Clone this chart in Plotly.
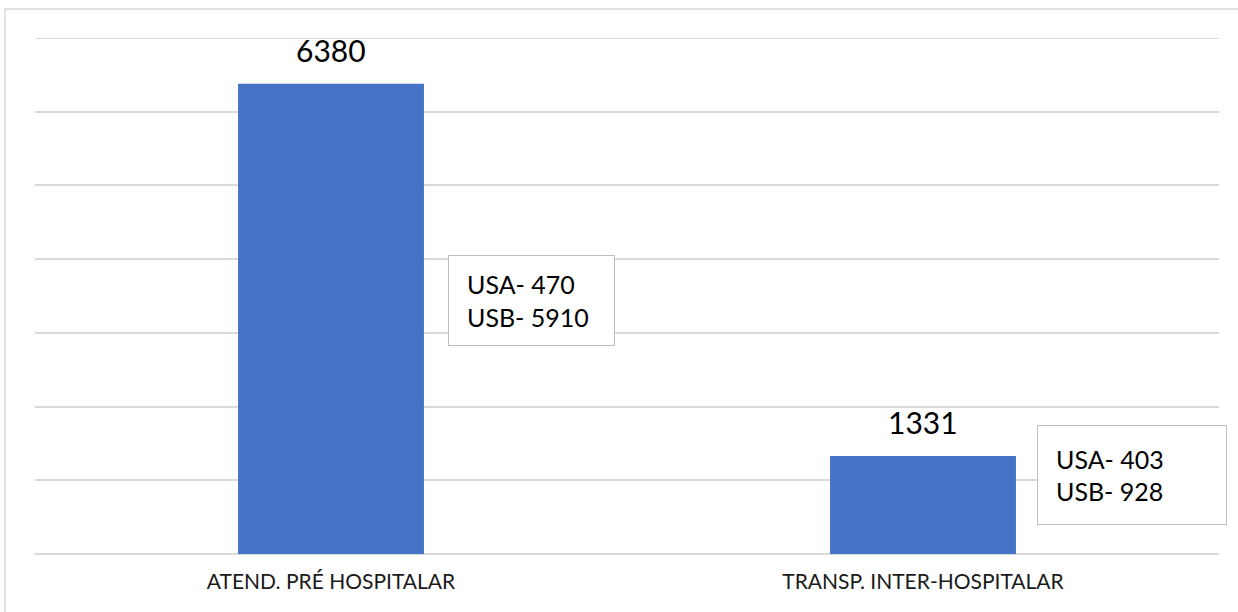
import plotly.graph_objects as go

categories = ["ATEND. PRÉ HOSPITALAR", "TRANSP. INTER-HOSPITALAR"]
totals = [6380, 1331]
usa_values = [470, 403]
usb_values = [5910, 928]
y_ticks = [0, 1000, 2000, 3000, 4000, 5000, 6000, 7000]

BAR_COLOR = "#4472C4"
GRID = "#d9d9d9"
FONT = "Lato, 'Open Sans', sans-serif"

W, H = 1238, 612
ML, MR, MT, MB = 35, 19, 38, 58
PW, PH = W - ML - MR, H - MT - MB

def px_x(px):
    return (px - ML) / PW

def px_y(py):
    return (H - MB - py) / PH

fig = go.Figure()
fig.add_trace(go.Bar(
    x=categories, y=totals,
    marker=dict(color=BAR_COLOR, line=dict(width=0)),
    hoverinfo="skip",
))

# value labels above bars
for cat, v in zip(categories, totals):
    fig.add_annotation(
        x=cat, y=v, xref="x", yref="y",
        text=str(v), showarrow=False,
        xanchor="center", yanchor="bottom", yshift=14,
        font=dict(size=30, color="#000000", family=FONT),
    )

# annotation boxes (USA / USB breakdown)
boxes = [
    dict(left=448, cy=300, w=167, h=91),
    dict(left=1037, cy=475, w=190, h=100),
]
pad = 18
for i, b in enumerate(boxes):
    fig.add_annotation(
        xref="paper", yref="paper",
        x=px_x(b["left"]), y=px_y(b["cy"]),
        xanchor="left", yanchor="middle",
        text=f"USA- {usa_values[i]}<br>USB- {usb_values[i]}",
        showarrow=False, align="left", valign="middle",
        width=b["w"] - 2 * pad - 2, height=b["h"] - 2 * pad - 2,
        borderpad=pad, bordercolor="#bfbfbf", borderwidth=1,
        bgcolor="#ffffff",
        font=dict(size=25, color="#000000", family=FONT),
    )

# top gridline (at the edge of the value range)
fig.add_shape(type="line", xref="paper", yref="y",
              x0=0, x1=1, y0=y_ticks[-1], y1=y_ticks[-1],
              line=dict(color=GRID, width=2), layer="below")

# outer chart border
fig.add_shape(type="rect", xref="paper", yref="paper",
              x0=px_x(5), x1=px_x(1250), y0=px_y(630), y1=px_y(9),
              line=dict(color=GRID, width=1.5), layer="below")

fig.update_layout(
    width=W, height=H,
    margin=dict(l=ML, r=MR, t=MT, b=MB, pad=0),
    paper_bgcolor="#ffffff", plot_bgcolor="#ffffff",
    showlegend=False,
    bargap=0.686,
    font=dict(family=FONT),
    xaxis=dict(
        showgrid=False, showline=False, zeroline=False, ticks="",
        tickfont=dict(size=21, color="#1a1a1a", family=FONT),
        ticklabelstandoff=13,
        range=[-0.5, 1.5],
    ),
    yaxis=dict(
        range=[0, y_ticks[-1]], tickvals=y_ticks, showticklabels=False,
        showgrid=True, gridcolor=GRID, gridwidth=2,
        zeroline=True, zerolinecolor=GRID, zerolinewidth=2,
        showline=False, ticks="",
    ),
)

fig.write_html(
    "out.html",
    config={"displayModeBar": False, "staticPlot": True},
    post_script="document.body.style.margin='0';document.body.style.overflow='hidden';",
)
